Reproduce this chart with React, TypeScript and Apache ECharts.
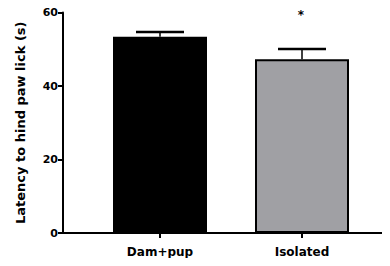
import React, { useEffect, useRef } from "react";
import * as echarts from "echarts";

const categories = ["Dam+pup", "Isolated"];
const means = [53.4, 47.3];
const errTops = [54.7, 50.1];
const significance = ["", "*"];
const barColors = ["#000000", "#a0a0a4"];
const yTicks = [0, 20, 40, 60];
const yName = "Latency to hind paw lick (s)";

const FONT = "DejaVu Sans";

export default function App() {
  const ref = useRef<HTMLDivElement>(null);
  useEffect(() => {
    if (!ref.current) return;
    const chart = echarts.init(ref.current, null, { renderer: "svg" });
    const top = 12.5;
    const bottom = 33;
    chart.setOption({
      animation: false,
      grid: [
        { left: 63, right: 0, top, bottom },
        { left: 89, right: 17, top, bottom },
      ],
      xAxis: [
        {
          type: "value",
          gridIndex: 0,
          min: 0,
          max: 1,
          axisLine: { show: true, lineStyle: { color: "#000", width: 2 } },
          axisTick: { show: false },
          axisLabel: { show: false },
          splitLine: { show: false },
        },
        {
          type: "category",
          gridIndex: 1,
          data: categories,
          axisLine: { show: false },
          axisTick: {
            show: true,
            alignWithLabel: true,
            length: 5,
            lineStyle: { color: "#000", width: 2 },
          },
          axisLabel: {
            margin: 13,
            color: "#000",
            fontFamily: FONT,
            fontWeight: "bold",
            fontSize: 12,
          },
        },
      ],
      yAxis: [
        {
          type: "value",
          gridIndex: 0,
          min: yTicks[0],
          max: yTicks[yTicks.length - 1],
          interval: 20,
          name: yName,
          nameLocation: "middle",
          nameGap: 36,
          nameTextStyle: {
            color: "#000",
            fontFamily: FONT,
            fontWeight: "bold",
            fontSize: 13,
          },
          axisLine: { show: true, lineStyle: { color: "#000", width: 2 } },
          axisTick: { show: true, length: 5, lineStyle: { color: "#000", width: 2 } },
          axisLabel: {
            margin: 5,
            color: "#000",
            fontFamily: FONT,
            fontWeight: "bold",
            fontSize: 11,
          },
          splitLine: { show: false },
        },
        {
          type: "value",
          gridIndex: 1,
          min: yTicks[0],
          max: yTicks[yTicks.length - 1],
          interval: 20,
          show: false,
        },
      ],
      series: [
        {
          type: "bar",
          xAxisIndex: 1,
          yAxisIndex: 1,
          barWidth: 94,
          data: means.map((v, i) => ({
            value: v,
            itemStyle: { color: barColors[i], borderColor: "#000", borderWidth: 2 },
          })),
        },
        {
          type: "custom",
          xAxisIndex: 1,
          yAxisIndex: 1,
          z: 10,
          data: categories.map((_, i) => [i, means[i], errTops[i]]),
          renderItem: (params: any, api: any) => {
            const idx = api.value(0);
            const pMean = api.coord([idx, api.value(1)]);
            const pTop = api.coord([idx, api.value(2)]);
            const half = 24;
            const children: any[] = [
              {
                type: "line",
                shape: { x1: pTop[0], y1: pMean[1], x2: pTop[0], y2: pTop[1] },
                style: { stroke: "#000", lineWidth: 1.5 },
              },
              {
                type: "line",
                shape: { x1: pTop[0] - half, y1: pTop[1], x2: pTop[0] + half, y2: pTop[1] },
                style: { stroke: "#000", lineWidth: 2.5 },
              },
            ];
            const sig = significance[params.dataIndex];
            if (sig) {
              children.push({
                type: "text",
                x: pTop[0] - 1,
                y: pTop[1] - 34,
                style: {
                  text: sig,
                  fill: "#000",
                  font: `bold 12px "${FONT}"`,
                  align: "center",
                  verticalAlign: "middle",
                },
              });
            }
            return { type: "group", children };
          },
        },
      ],
    });
    return () => chart.dispose();
  }, []);
  return <div ref={ref} style={{ width: 390, height: 266, margin: -8 }} />;
}
